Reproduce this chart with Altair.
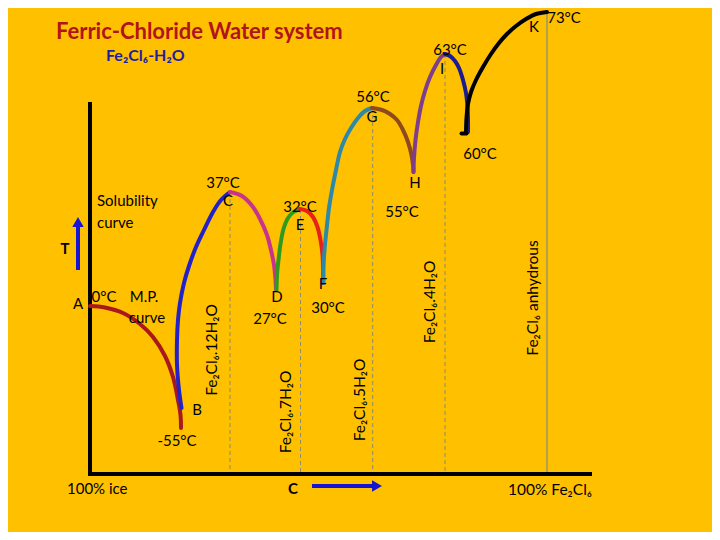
import altair as alt
import pandas as pd

# Schematic units: x = composition (0 = 100% ice axis, 502 = 100% Fe2Cl6 end of axis)
# y = schematic temperature height above the composition axis
BG = "#FFC000"

seg_names = ["AB", "BC", "CD", "DE", "EF", "FG", "GH", "HI", "IJ", "JK", "Jhook"]
seg_colors = ["#A8181C", "#2222C8", "#C8348C", "#2E9A1E", "#E8201C", "#2E88A8",
              "#8E4A1E", "#7E3E8C", "#1C1C90", "#000000", "#000000"]
seg_x = [
    [0, 15, 33, 50, 63, 75, 83, 88, 90.5, 91],
    [91.5, 89, 87, 87, 88, 90, 94, 99, 106, 114, 123, 131, 140],
    [140, 152, 163, 171, 177, 181, 184, 185.5, 186],
    [186.5, 187, 188.5, 190.5, 193.5, 198, 203.5, 210],
    [210, 217, 223, 227.5, 230.5, 232.5, 233, 233],
    [233.5, 233.5, 234.5, 236.5, 239, 242, 246, 250, 255, 261, 268, 275, 282],
    [282, 292, 300, 307, 313, 318, 321.5, 323, 323.5],
    [323.5, 324, 325.5, 328, 331, 335, 340, 346, 351, 355],
    [355, 360, 365, 369, 373, 376, 377.5, 378, 378],
    [376, 376.5, 378, 381, 386, 393, 401, 409, 417, 426, 436, 446, 457],
    [376.5, 371.5],
]
seg_y = [
    [168, 166.5, 161, 150, 137, 118, 97, 74, 59, 46],
    [66, 84, 109, 134, 154, 171, 191, 208, 227, 244, 262, 274, 282],
    [282, 278, 267, 253, 239, 224, 209, 194, 184],
    [184, 199, 214, 230, 245, 256, 262, 265],
    [265, 263, 257, 247, 234, 219, 204, 191],
    [191, 206, 224, 244, 266, 284, 304, 322, 335, 346, 356, 363, 366],
    [366, 364, 360, 354, 344, 332, 319, 309, 302],
    [302, 316, 334, 352, 368, 383, 397, 409, 417, 420],
    [420, 418, 413, 406, 394, 381, 367, 354, 342],
    [341, 356, 370, 382, 394, 407, 420, 431, 440, 448, 455, 460, 462],
    [340.5, 340.5],
]

# vertical guide lines at compound compositions (x, top y)
guide_x = [140, 210.5, 282.7, 355]
guide_top = [282, 265, 366, 420]
anhydrous_x = [457]
anhydrous_top = [462]

# point labels
lab_text = ["56°C", "G", "63°C", "I", "73°C", "K", "60°C", "H", "55°C", "37°C", "C",
            "32°C", "E", "A", "0°C", "M.P.", "curve", "B", "-55°C", "D", "27°C", "F", "30°C"]
lab_x = [283, 282, 360, 352, 474, 444, 390, 325, 312, 133, 138,
         210, 210, -12, 14, 54, 57, 107, 87, 187, 180, 233, 238]
lab_y = [377, 357, 424, 405, 456, 447, 320, 291, 262, 291, 273,
         267, 249, 170, 177, 177, 156, 64, 33, 177, 155, 190, 166]

left_text = ["Solubility", "curve", "100% ice"]
left_x = [7, 7, -23]
left_y = [273, 251, -15]

rot_text = ["Fe₂Cl₆.12H₂O", "Fe₂Cl₆.7H₂O", "Fe₂Cl₆.5H₂O", "Fe₂Cl₆.4H₂O", "Fe₂Cl₆ anhydrous"]
rot_x = [122, 196, 270, 340, 443]
rot_y = [124, 62, 74, 172, 176]

rows = []
for name, col, xs_, ys_ in zip(seg_names, seg_colors, seg_x, seg_y):
    for i, (a, b) in enumerate(zip(xs_, ys_)):
        rows.append({"seg": name, "c": col, "i": i, "x": a, "y": b})
lines_df = pd.DataFrame(rows)

xs = alt.Scale(domain=[-82, 622], nice=False, zero=False)
ys = alt.Scale(domain=[-58, 466], nice=False, zero=False)
X = lambda f="x": alt.X(f"{f}:Q", scale=xs, axis=None)
Y = lambda f="y": alt.Y(f"{f}:Q", scale=ys, axis=None)

FONT = "Lato, DejaVu Sans"

curves = alt.Chart(lines_df).mark_line(
    interpolate="catmull-rom", strokeWidth=4, strokeCap="round"
).encode(x=X(), y=Y(), detail="seg:N", order="i:Q",
         color=alt.Color("c:N", scale=None))

guides_df = pd.DataFrame({"x": guide_x, "y": guide_top, "y0": [0] * len(guide_x)})
guides = alt.Chart(guides_df).mark_rule(
    color="#8C8A70", strokeWidth=1, strokeDash=[4, 3]
).encode(x=X(), y=Y(), y2="y0:Q")

anh_df = pd.DataFrame({"x": anhydrous_x, "y": anhydrous_top, "y0": [0]})
anh = alt.Chart(anh_df).mark_rule(color="#7E8A80", strokeWidth=1.2).encode(
    x=X(), y=Y(), y2="y0:Q")

vaxis = alt.Chart(pd.DataFrame({"x": [0], "y": [372], "y0": [-1]})).mark_rule(
    color="black", strokeWidth=4).encode(x=X(), y=Y(), y2="y0:Q")
haxis = alt.Chart(pd.DataFrame({"x": [-2], "x2": [502], "y": [0]})).mark_rule(
    color="black", strokeWidth=4).encode(x=X(), x2="x2:Q", y=Y())

BLUE = "#1414D2"
t_shaft = alt.Chart(pd.DataFrame({"x": [-12], "y": [204], "y2": [250]})).mark_rule(
    color=BLUE, strokeWidth=4).encode(x=X(), y=Y(), y2="y2:Q")
t_head = alt.Chart(pd.DataFrame({"x": [-12], "y": [252]})).mark_point(
    shape="triangle-up", filled=True, size=130, color=BLUE, opacity=1).encode(x=X(), y=Y())
c_shaft = alt.Chart(pd.DataFrame({"x": [222], "x2": [284], "y": [-12]})).mark_rule(
    color=BLUE, strokeWidth=4).encode(x=X(), x2="x2:Q", y=Y())
c_head = alt.Chart(pd.DataFrame({"x": [287], "y": [-12]})).mark_point(
    shape="triangle-right", filled=True, size=130, color=BLUE, opacity=1).encode(x=X(), y=Y())

labels = alt.Chart(pd.DataFrame({"t": lab_text, "x": lab_x, "y": lab_y})).mark_text(
    font=FONT, fontSize=15, color="black", baseline="middle", align="center"
).encode(x=X(), y=Y(), text="t:N")

left_labels = alt.Chart(pd.DataFrame({"t": left_text, "x": left_x, "y": left_y})).mark_text(
    font=FONT, fontSize=15, color="black", baseline="middle", align="left"
).encode(x=X(), y=Y(), text="t:N")

rot_labels = alt.Chart(pd.DataFrame({"t": rot_text, "x": rot_x, "y": rot_y})).mark_text(
    font=FONT, fontSize=15.5, color="black", baseline="middle", align="center", angle=270
).encode(x=X(), y=Y(), text="t:N")

bold_labels = alt.Chart(pd.DataFrame({"t": ["T", "C"], "x": [-25, 203], "y": [225, -15]})).mark_text(
    font=FONT, fontSize=15, fontWeight="bold", color="black", baseline="middle", align="center"
).encode(x=X(), y=Y(), text="t:N")

right_label = alt.Chart(pd.DataFrame({"t": ["100% Fe₂Cl₆"], "x": [502], "y": [-16]})).mark_text(
    font=FONT, fontSize=15.5, color="black", baseline="middle", align="right"
).encode(x=X(), y=Y(), text="t:N")

title = alt.Chart(pd.DataFrame({"t": ["Ferric-Chloride Water system"], "x": [-34], "y": [442]})).mark_text(
    font=FONT, fontSize=22, fontWeight="bold", color="#B0141C", baseline="middle", align="left"
).encode(x=X(), y=Y(), text="t:N")

subtitle = alt.Chart(pd.DataFrame({"t": ["Fe₂Cl₆-H₂O"], "x": [16], "y": [418]})).mark_text(
    font=FONT, fontSize=16, fontWeight="bold", color="#1E1EA0", baseline="middle", align="left"
).encode(x=X(), y=Y(), text="t:N")

chart = alt.layer(
    guides, anh, vaxis, haxis, curves, t_shaft, t_head, c_shaft, c_head,
    labels, left_labels, rot_labels, bold_labels, right_label, title, subtitle
).properties(
    width=704, height=524, padding=0, background=BG,
    autosize=alt.AutoSizeParams(type="none")
).configure_view(stroke=None)

chart.save("out.html", embed_options={"renderer": "svg", "actions": False})
